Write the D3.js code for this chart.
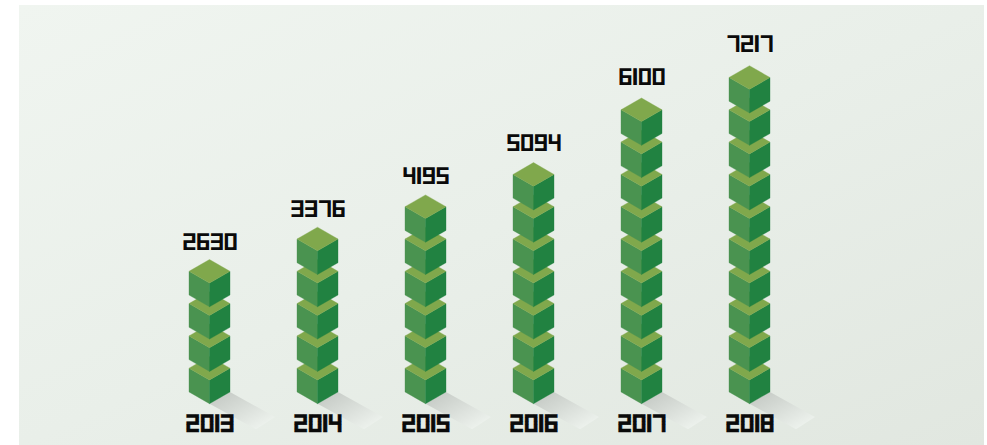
<!DOCTYPE html>
<html>
<head>
<meta charset="utf-8">
<script src="https://cdn.jsdelivr.net/npm/d3@7"></script>
<style>
  html, body { margin: 0; padding: 0; background: #fff; }
  svg { display: block; }
  text { font-family: "BlockDigits", "DejaVu Sans Mono", monospace; font-weight: normal; fill: #0a0a0a; text-rendering: geometricPrecision; }
</style>
</head>
<body>
<svg id="chart" width="987" height="445"></svg>
<script>
// Yearly totals; one cube stands for roughly 700 units.
const years = ["2013", "2014", "2015", "2016", "2017", "2018"];
const totals = [2630, 3376, 4195, 5094, 6100, 7217];
const unitsPerCube = 700;

// ---- Blocky digit typeface, assembled as a small TrueType file ----
const SEGMENTS = {
  T: [0, 580, 490, 700], M: [0, 290, 490, 410], B: [0, 0, 490, 120],
  UL: [0, 290, 135, 700], UR: [355, 290, 490, 700],
  LL: [0, 0, 135, 410], LR: [355, 0, 490, 410], S: [0, 0, 150, 700]
};
const DIGIT_SEGMENTS = [
  ["T", "B", "UL", "UR", "LL", "LR"], ["S"], ["T", "UR", "M", "LL", "B"],
  ["T", "UR", "M", "LR", "B"], ["UL", "M", "UR", "LR"], ["T", "UL", "M", "LR", "B"],
  ["T", "UL", "LL", "M", "LR", "B"], ["T", "UR", "LR"],
  ["T", "B", "M", "UL", "UR", "LL", "LR"], ["T", "UL", "UR", "M", "LR", "B"]
];

function buildDigitFont() {
  const u16 = v => [(v >> 8) & 255, v & 255];
  const u32 = v => [(v >>> 24) & 255, (v >>> 16) & 255, (v >>> 8) & 255, v & 255];
  const seq = (...vals) => vals.flatMap(u16);
  const side = 42;

  const glyphs = DIGIT_SEGMENTS.map(names => {
    const rects = names.map(n => SEGMENTS[n]);
    const xMax = d3.max(rects, r => r[2]);
    const bytes = [...seq(rects.length, side, 0, xMax + side, 700)];
    rects.forEach((r, i) => bytes.push(...u16(4 * i + 3)));
    bytes.push(...u16(0));
    const pts = rects.flatMap(([x0, y0, x1, y1]) =>
      [[x0 + side, y0], [x0 + side, y1], [x1 + side, y1], [x1 + side, y0]]);
    pts.forEach(() => bytes.push(1));
    let last = 0;
    pts.forEach(p => { bytes.push(...u16((p[0] - last) & 0xFFFF)); last = p[0]; });
    last = 0;
    pts.forEach(p => { bytes.push(...u16((p[1] - last) & 0xFFFF)); last = p[1]; });
    while (bytes.length % 4) bytes.push(0);
    return { bytes, advance: xMax + 2 * side, lsb: side };
  });

  const glyf = [], loca = [...u32(0), ...u32(0)];
  glyphs.forEach(g => { glyf.push(...g.bytes); loca.push(...u32(glyf.length)); });
  const hmtx = [...seq(574, 0)];
  glyphs.forEach(g => hmtx.push(...seq(g.advance, g.lsb)));
  const count = glyphs.length + 1;

  const head = [...u32(0x00010000), ...u32(0x00010000), ...u32(0), ...u32(0x5F0F3CF5),
    ...seq(0, 1000), ...new Array(16).fill(0), ...seq(0, 0, 532, 700, 0, 8, 2, 1, 0)];
  const hhea = [...u32(0x00010000), ...seq(800, 65336, 0, 574, 0, 0, 532, 1, 0, 0, 0, 0, 0, 0, 0, count)];
  const maxp = [...u32(0x00010000), ...seq(count, 28, 7, 0, 0, 2, 0, 0, 0, 0, 0, 0, 0, 0)];
  const os2 = [...seq(1, 500, 400, 5, 0, 200, 200, 0, 0, 200, 200, 0, 0, 50, 250, 0),
    ...new Array(10).fill(0), ...u32(1), ...u32(0), ...u32(0), ...u32(0),
    66, 76, 75, 68, ...seq(64, 48, 57, 800, 65336, 0, 800, 200), ...u32(1), ...u32(0)];
  const post = [...u32(0x00030000), ...u32(0), ...seq(65436, 50), ...new Array(20).fill(0)];
  const cmap = [...seq(0, 1, 3, 1), ...u32(12),
    ...seq(4, 32, 0, 4, 4, 1, 0, 0x39, 0xFFFF, 0, 0x30, 0xFFFF, (1 - 0x30) & 0xFFFF, 1, 0, 0)];

  const nameStrings = [[1, "BlockDigits"], [2, "Regular"], [4, "BlockDigits"], [6, "BlockDigits-Regular"]];
  const nameHeader = [...seq(0, nameStrings.length, 6 + 12 * nameStrings.length)];
  const nameData = [];
  nameStrings.forEach(([id, s]) => {
    const enc = [...s].flatMap(c => u16(c.charCodeAt(0)));
    nameHeader.push(...seq(3, 1, 0x409, id, enc.length, nameData.length));
    nameData.push(...enc);
  });

  const tables = [["OS/2", os2], ["cmap", cmap], ["glyf", glyf], ["head", head], ["hhea", hhea],
    ["hmtx", hmtx], ["loca", loca], ["maxp", maxp], ["name", [...nameHeader, ...nameData]], ["post", post]];
  const out = [...u32(0x00010000), ...seq(tables.length, 128, 3, 32)];
  let offset = 12 + 16 * tables.length;
  const body = [];
  tables.forEach(([tag, data]) => {
    const padded = data.slice();
    while (padded.length % 4) padded.push(0);
    let sum = 0;
    for (let i = 0; i < padded.length; i += 4) {
      sum = (sum + ((padded[i] << 24 | padded[i + 1] << 16 | padded[i + 2] << 8 | padded[i + 3]) >>> 0)) >>> 0;
    }
    out.push(...[...tag].map(c => c.charCodeAt(0)), ...u32(sum), ...u32(offset), ...u32(data.length));
    body.push(...padded);
    offset += padded.length;
  });
  return new Uint8Array([...out, ...body]).buffer;
}

try {
  const face = new FontFace("BlockDigits", buildDigitFont());
  face.load().then(f => document.fonts.add(f)).catch(() => {});
} catch (e) { /* the monospace fallback stays in use */ }

// ---- Chart ----
const svg = d3.select("#chart");
const panel = { x: 19, y: 5, width: 965, height: 440 };
const cube = { halfWidth: 20.5, faceHalf: 11.8, edge: 23.7 };
const colors = { top: "#80a84c", left: "#4a9350", right: "#218241" };

const x = d3.scalePoint().domain(years).range([209.5, 749.5]);
const y = d3.scaleLinear().domain([0, unitsPerCube]).range([403.7, 371.4]);

const defs = svg.append("defs");
const bg = defs.append("linearGradient").attr("id", "panelFill")
  .attr("x1", 0).attr("y1", 0).attr("x2", 1).attr("y2", 1);
bg.append("stop").attr("offset", 0).attr("stop-color", "#f0f5f0");
bg.append("stop").attr("offset", 0.5).attr("stop-color", "#e9efe9");
bg.append("stop").attr("offset", 1).attr("stop-color", "#e1e7e0");

const shade = defs.append("linearGradient").attr("id", "castShadow")
  .attr("x1", 0.1).attr("y1", 0.1).attr("x2", 0.85).attr("y2", 0.85);
shade.append("stop").attr("offset", 0).attr("stop-color", "#c6cbc6");
shade.append("stop").attr("offset", 1).attr("stop-color", "#ecf1ec");

svg.append("rect").attr("x", panel.x).attr("y", panel.y)
  .attr("width", panel.width).attr("height", panel.height).attr("fill", "url(#panelFill)");

const rows = years.map((year, i) => ({ year, total: totals[i], cubes: Math.round(totals[i] / unitsPerCube) }));
const columns = svg.selectAll("g.column").data(rows).join("g").attr("class", "column");

// Shadow cast by the stack along the floor
columns.append("polygon")
  .attr("fill", "url(#castShadow)")
  .attr("points", d => {
    const cx = x(d.year), by = y(0);
    return [[cx + cube.halfWidth, by - cube.faceHalf], [cx + 65.5, by + 13.3],
            [cx + 46.5, by + 25.6], [cx, by]].join(" ");
  });

// Cubes are painted bottom to top so each one overlaps the cube below
columns.each(function (d) {
  const stack = d3.select(this).selectAll("g.cube")
    .data(d3.range(d.cubes).map(k => ({ year: d.year, bottom: k * unitsPerCube })))
    .join("g").attr("class", "cube")
    .attr("transform", c => `translate(${x(c.year)},${y(c.bottom)})`);
  const { halfWidth: w, faceHalf: f, edge: e } = cube;
  // A thin stroke in each face colour closes the hairline seams between faces
  const face = (fill, points) => stack.append("polygon")
    .attr("fill", fill).attr("stroke", fill).attr("stroke-width", 0.35)
    .attr("stroke-linejoin", "round").attr("points", points);
  face(colors.left, `0,0 ${-w},${-f} ${-w},${-f - e} 0,${-e}`);
  face(colors.right, `0,0 ${w},${-f} ${w},${-f - e} 0,${-e}`);
  face(colors.top, `0,${-e} ${w},${-e - f} 0,${-e - 2 * f} ${-w},${-e - f}`);
});

// Totals above each stack; the gap widens a little on taller stacks
columns.append("text")
  .attr("x", d => x(d.year) + 0.5)
  .attr("y", d => y((d.cubes - 1) * unitsPerCube) - cube.edge - 2 * cube.faceHalf - (10 + 0.65 * (d.cubes - 4)))
  .attr("text-anchor", "middle")
  .attr("font-size", 24)
  .text(d => d.total);

// Year labels along the floor
const axis = svg.append("g").attr("transform", "translate(0,432)")
  .call(d3.axisBottom(x).tickSize(0).tickPadding(0));
axis.select(".domain").remove();
axis.selectAll("text").attr("y", 0).attr("dy", 0).style("font-size", "25px")
  .attr("stroke", "#0a0a0a").attr("stroke-width", 0.35);
axis.attr("font-family", null).attr("font-size", null);
</script>
</body>
</html>
